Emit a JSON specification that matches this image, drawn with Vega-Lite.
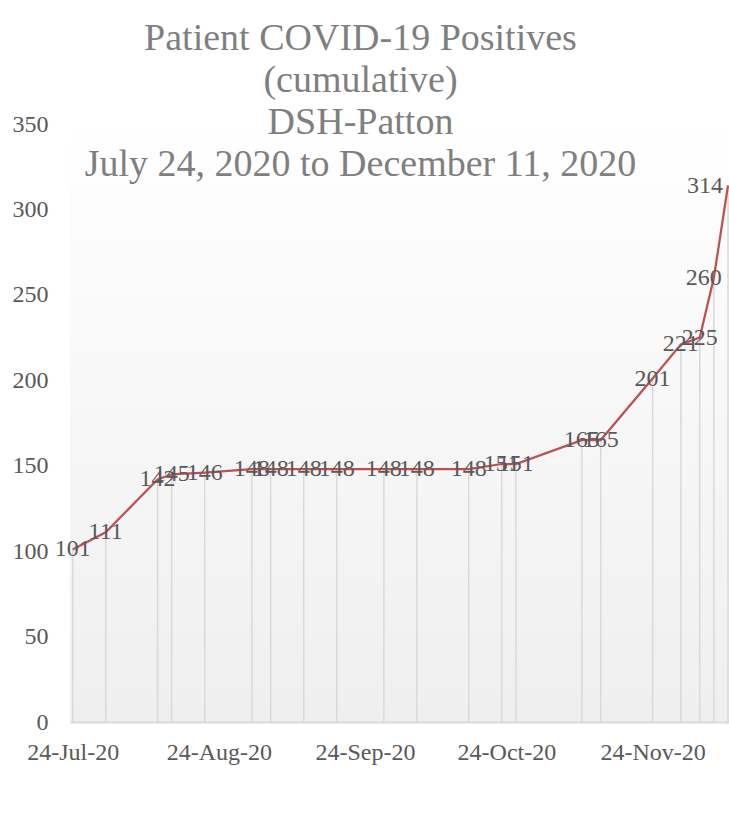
{
  "$schema": "https://vega.github.io/schema/vega-lite/v6.json",
  "autosize": {"type": "none"},
  "padding": {"left": 70, "top": 124, "right": 0, "bottom": 115},
  "width": 659,
  "height": 598,
  "background": "white",
  "title": {
    "text": ["Patient COVID-19 Positives", "(cumulative)", "DSH-Patton", "July 24, 2020 to December 11, 2020"],
    "font": "Liberation Serif",
    "fontSize": 38,
    "fontWeight": "normal",
    "color": "#7f7f7f",
    "lineHeight": 42,
    "anchor": "middle",
    "frame": "group",
    "orient": "top",
    "offset": 0,
    "baseline": "top",
    "dx": -39,
    "dy": 72
  },
  "data": {
    "values": [
      {"date": "2020-07-24", "value": 101},
      {"date": "2020-07-31", "value": 111},
      {"date": "2020-08-11", "value": 142},
      {"date": "2020-08-14", "value": 145},
      {"date": "2020-08-21", "value": 146},
      {"date": "2020-08-31", "value": 148},
      {"date": "2020-09-04", "value": 148},
      {"date": "2020-09-11", "value": 148},
      {"date": "2020-09-18", "value": 148},
      {"date": "2020-09-28", "value": 148},
      {"date": "2020-10-05", "value": 148},
      {"date": "2020-10-16", "value": 148},
      {"date": "2020-10-23", "value": 151},
      {"date": "2020-10-26", "value": 151},
      {"date": "2020-11-09", "value": 165},
      {"date": "2020-11-13", "value": 165},
      {"date": "2020-11-24", "value": 201},
      {"date": "2020-11-30", "value": 221},
      {"date": "2020-12-04", "value": 225},
      {"date": "2020-12-07", "value": 260},
      {"date": "2020-12-10", "value": 314}
    ]
  },
  "encoding": {
    "x": {
      "field": "date",
      "type": "temporal",
      "scale": {
        "type": "utc",
        "domain": [
          {"year": 2020, "month": 7, "date": 23, "hours": 10, "minutes": 15, "utc": true},
          {"year": 2020, "month": 12, "date": 10, "hours": 5, "utc": true}
        ]
      },
      "axis": {
        "title": null,
        "values": [
          {"year": 2020, "month": 7, "date": 24, "utc": true},
          {"year": 2020, "month": 8, "date": 24, "utc": true},
          {"year": 2020, "month": 9, "date": 24, "utc": true},
          {"year": 2020, "month": 10, "date": 24, "utc": true},
          {"year": 2020, "month": 11, "date": 24, "utc": true}
        ],
        "labelExpr": "utcFormat(datum.value, '%d-%b-%y')",
        "grid": false,
        "ticks": false,
        "domain": true,
        "domainColor": "#d9d9d9",
        "domainWidth": 2,
        "labelFont": "Liberation Serif",
        "labelFontSize": 24,
        "labelColor": "#595959",
        "labelPadding": 18,
        "labelFlush": false,
        "labelOverlap": false,
        "labelBound": false
      }
    },
    "y": {
      "field": "value",
      "type": "quantitative",
      "scale": {"domain": [0, 350], "nice": false, "zero": true},
      "axis": {
        "title": null,
        "values": [0, 50, 100, 150, 200, 250, 300, 350],
        "grid": false,
        "ticks": false,
        "domain": false,
        "labelFont": "Liberation Serif",
        "labelFontSize": 24,
        "labelColor": "#595959",
        "labelPadding": 22
      }
    }
  },
  "layer": [
    {
      "mark": {"type": "rule", "color": "#d9d9d9", "strokeWidth": 1.5},
      "encoding": {"y2": {"datum": 0}}
    },
    {
      "mark": {"type": "line", "color": "#c0504d", "strokeWidth": 2.25}
    },
    {
      "transform": [{"filter": "datum.value < 250"}],
      "mark": {"type": "text", "font": "Liberation Serif", "fontSize": 24, "color": "#595959", "align": "center", "baseline": "middle"},
      "encoding": {"text": {"field": "value", "type": "quantitative"}}
    },
    {
      "transform": [{"filter": "datum.value == 260"}],
      "mark": {"type": "text", "font": "Liberation Serif", "fontSize": 24, "color": "#595959", "align": "center", "baseline": "middle", "dx": -10},
      "encoding": {"text": {"field": "value", "type": "quantitative"}}
    },
    {
      "transform": [{"filter": "datum.value == 314"}],
      "mark": {"type": "text", "font": "Liberation Serif", "fontSize": 24, "color": "#595959", "align": "center", "baseline": "middle", "dx": -23},
      "encoding": {"text": {"field": "value", "type": "quantitative"}}
    }
  ],
  "config": {
    "view": {
      "stroke": null,
      "fill": {
        "gradient": "linear",
        "x1": 0, "y1": 0, "x2": 0, "y2": 1,
        "stops": [
          {"offset": 0, "color": "#ffffff"},
          {"offset": 0.12, "color": "#fdfdfd"},
          {"offset": 1, "color": "#efefef"}
        ]
      }
    }
  }
}
